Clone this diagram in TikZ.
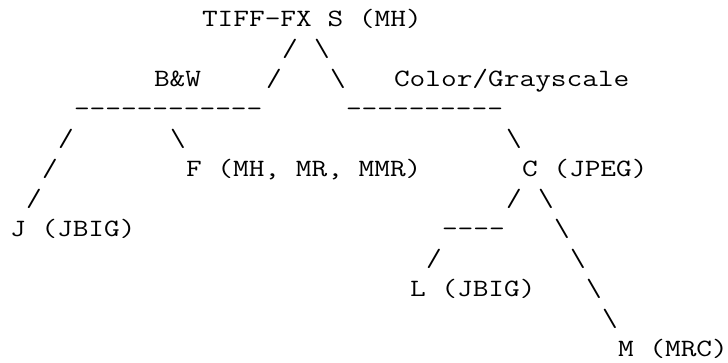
\documentclass[tikz,border=0pt]{standalone}
\usepackage{fontspec}
\newfontfamily\asciifont{Latin Modern Mono}[FakeStretch=1.224, Ligatures=TeXOff]
\tikzset{
  asc/.style={anchor=base west, inner sep=0pt, outer sep=0pt,
    font=\asciifont\fontsize{24.9}{30}\selectfont, text=black},
}
\newcommand{\bsl}{\textbackslash}
\begin{document}
\begin{tikzpicture}[x=1pt,y=-1pt]
\useasboundingbox[fill=white] (0,0) rectangle (728,362);
% row 1
\node[asc] (root) at (202,26) {TIFF-FX S (MH)};
% row 2
\node[asc] (r2a) at (282,56) {/};
\node[asc] (r2b) at (314,56) {\bsl};
% row 3
\node[asc] (bw) at (154,86) {B\&W};
\node[asc] (r3a) at (266,86) {/};
\node[asc] (r3b) at (330,86) {\bsl};
\node[asc] (cg) at (394,86) {Color/Grayscale};
% row 4
\node[asc] (d4a) at (74,116) {------------};
\node[asc] (d4b) at (346,116) {----------};
% row 5
\node[asc] (r5a) at (58,146) {/};
\node[asc] (r5b) at (170,146) {\bsl};
\node[asc] (r5c) at (506,146) {\bsl};
% row 6
\node[asc] (r6a) at (42,176) {/};
\node[asc] (f) at (186,176) {F (MH, MR, MMR)};
\node[asc] (c) at (522,176) {C (JPEG)};
% row 7
\node[asc] (r7a) at (26,206) {/};
\node[asc] (r7b) at (506,206) {/};
\node[asc] (r7c) at (538,206) {\bsl};
% row 8
\node[asc] (j) at (10,236) {J (JBIG)};
\node[asc] (d8) at (442,236) {----};
\node[asc] (r8a) at (554,236) {\bsl};
% row 9
\node[asc] (r9a) at (426,266) {/};
\node[asc] (r9b) at (570,266) {\bsl};
% row 10
\node[asc] (l) at (410,296) {L (JBIG)};
\node[asc] (r10a) at (586,296) {\bsl};
% row 11
\node[asc] (r11a) at (602,326) {\bsl};
% row 12
\node[asc] (m) at (618,356) {M (MRC)\hspace{-4pt}};
\end{tikzpicture}
\end{document}
